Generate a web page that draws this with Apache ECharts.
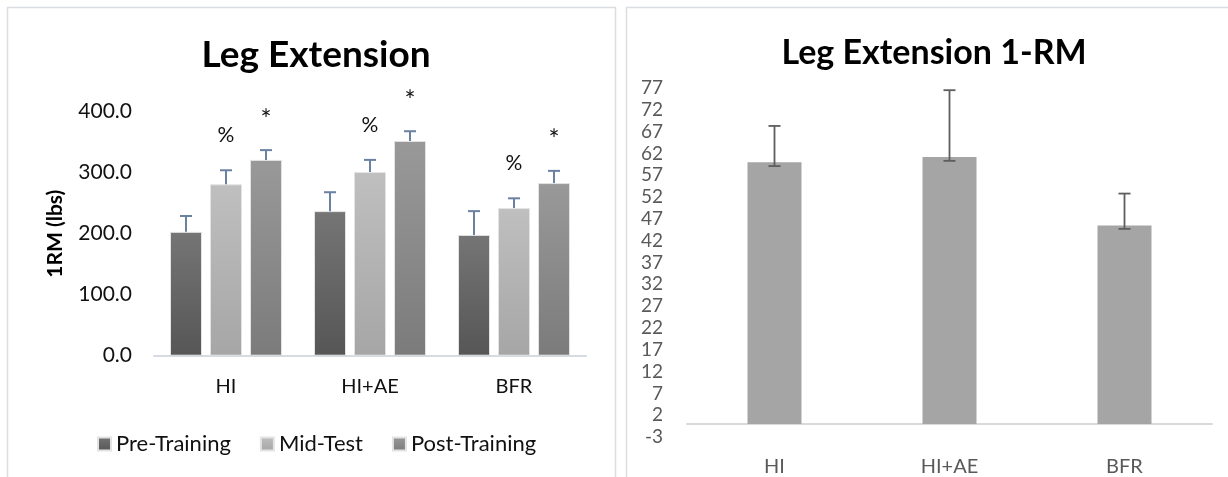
<!DOCTYPE html>
<html>
<head>
<meta charset="utf-8">
<script src="https://cdn.jsdelivr.net/npm/echarts@6/dist/echarts.min.js"></script>
<style>
  html, body { margin: 0; padding: 0; background: #fff; }
  #chart { width: 1228px; height: 477px; }
</style>
</head>
<body>
<div id="chart"></div>
<script>
// ---- Leg extension by group, three test points ----
const categories = ['HI', 'HI+AE', 'BFR'];
const seriesNames = ['Pre-Training', 'Mid-Test', 'Post-Training'];
const preTraining = [203, 237, 198];
const midTest = [281, 301, 242];
const postTraining = [321, 352, 283];
const preTrainingErr = [26, 31, 39];
const midTestErr = [23, 20, 16];
const postTrainingErr = [16, 16, 20];
const preTrainingMarks = ['', '', ''];
const midTestMarks = ['%', '%', '%'];
const postTrainingMarks = ['*', '*', '*'];
const lbsAxisMin = 0;
const lbsAxisMax = 400;
const lbsAxisStep = 100;

// ---- Leg extension 1-RM change by group ----
const rmCategories = ['HI', 'HI+AE', 'BFR'];
const rmMean = [60.0, 61.2, 45.5];
const rmErrLow = [59.1, 60.3, 44.7];
const rmErrHigh = [68.3, 76.5, 52.8];
const rmAxisMin = -3;
const rmAxisMax = 77;
const rmAxisStep = 5;

const FONT = 'Lato, "Open Sans", sans-serif';
const BAR_W = 32;
const BAR_GAP = 8;

const grad = (top, bottom) => new echarts.graphic.LinearGradient(0, 0, 0, 1, [
  { offset: 0, color: top }, { offset: 1, color: bottom }
]);
const barColors = [grad('#757575', '#565656'), grad('#bfbfbf', '#a6a6a6'), grad('#999999', '#7b7b7b')];

const groups = [
  { name: seriesNames[0], values: preTraining, errs: preTrainingErr, marks: preTrainingMarks },
  { name: seriesNames[1], values: midTest, errs: midTestErr, marks: midTestMarks },
  { name: seriesNames[2], values: postTraining, errs: postTrainingErr, marks: postTrainingMarks }
];

// upper-only error whisker with its significance mark above it
function upperErrRenderer(k, marks) {
  return function (params, api) {
    const i = api.value(0);
    const base = api.coord([i, api.value(1)]);
    const top = api.coord([i, api.value(1) + api.value(2)]);
    const x = base[0] + (k - 1) * (BAR_W + BAR_GAP);
    const stroke = { stroke: '#6b81a2', lineWidth: 2 };
    const children = [
      { type: 'line', shape: { x1: x, y1: base[1], x2: x, y2: top[1] }, style: stroke },
      { type: 'line', shape: { x1: x - 6, y1: top[1], x2: x + 6, y2: top[1] }, style: stroke }
    ];
    const mark = marks[params.dataIndex];
    if (mark) {
      const star = mark === '*';
      children.push({
        type: 'text',
        style: {
          text: mark, x: x, y: top[1] - (star ? 30 : 35),
          align: 'center', verticalAlign: 'middle',
          font: (star ? '26px ' : '21px ') + FONT, fill: '#111'
        }
      });
    }
    return { type: 'group', children: children };
  };
}

// two-sided error whisker for the 1-RM bars
function rangeErrRenderer(params, api) {
  const i = api.value(0);
  const lo = api.coord([i, api.value(1)]);
  const hi = api.coord([i, api.value(2)]);
  const x = lo[0];
  const stroke = { stroke: '#5e5e5e', lineWidth: 1.8 };
  return {
    type: 'group',
    children: [
      { type: 'line', shape: { x1: x, y1: lo[1], x2: x, y2: hi[1] }, style: stroke },
      { type: 'line', shape: { x1: x - 6, y1: hi[1], x2: x + 6, y2: hi[1] }, style: stroke },
      { type: 'line', shape: { x1: x - 6, y1: lo[1], x2: x + 6, y2: lo[1] }, style: stroke }
    ]
  };
}

const series = [];
groups.forEach((g, k) => {
  series.push({
    name: g.name, type: 'bar', xAxisIndex: 0, yAxisIndex: 0,
    barWidth: BAR_W, barGap: (BAR_GAP / BAR_W * 100) + '%',
    itemStyle: { color: barColors[k], borderColor: '#e3e3e3', borderWidth: 1 },
    data: g.values
  });
});
groups.forEach((g, k) => {
  series.push({
    type: 'custom', xAxisIndex: 0, yAxisIndex: 0, z: 5,
    renderItem: upperErrRenderer(k, g.marks),
    data: g.values.map((v, i) => [i, v, g.errs[i]])
  });
});
series.push({
  name: '1-RM', type: 'bar', xAxisIndex: 1, yAxisIndex: 1,
  barWidth: 54, itemStyle: { color: '#a5a5a5' }, data: rmMean
});
series.push({
  type: 'custom', xAxisIndex: 1, yAxisIndex: 1, z: 5,
  renderItem: rangeErrRenderer,
  data: rmMean.map((v, i) => [i, rmErrLow[i], rmErrHigh[i]])
});

const panelLine = { stroke: '#dadee3', lineWidth: 1.5 };

const option = {
  backgroundColor: '#ffffff',
  animation: false,
  textStyle: { fontFamily: FONT },
  title: [
    {
      text: 'Leg Extension', left: 311, top: 32, textAlign: 'center',
      textStyle: { fontFamily: FONT, fontSize: 37, fontWeight: 'bold', color: '#000' }
    },
    {
      text: 'Leg Extension 1-RM', left: 929, top: 31, textAlign: 'center',
      textStyle: { fontFamily: FONT, fontSize: 34, fontWeight: 'bold', color: '#000' }
    }
  ],
  legend: {
    data: seriesNames, left: 92, top: 428, icon: 'rect',
    itemWidth: 13, itemHeight: 13, itemGap: 29,
    textStyle: { fontFamily: FONT, fontSize: 22, color: '#111' }
  },
  grid: [
    { left: 154, right: 1228 - 586, top: 111.7, bottom: 477 - 355.7 },
    { left: 687, right: 16, top: 88, bottom: 477 - 445 }
  ],
  xAxis: [
    {
      type: 'category', gridIndex: 0, data: categories,
      axisLine: { lineStyle: { color: '#d6dbe1', width: 2 } },
      axisTick: { show: false },
      axisLabel: { margin: 21, fontFamily: FONT, fontSize: 20, color: '#111' }
    },
    {
      type: 'category', gridIndex: 1, data: rmCategories,
      axisLine: { onZero: true, lineStyle: { color: '#d9d9d9', width: 2 } },
      axisTick: { show: false },
      axisLabel: { margin: 20, fontFamily: FONT, fontSize: 20, color: '#595959' }
    }
  ],
  yAxis: [
    {
      type: 'value', gridIndex: 0, min: lbsAxisMin, max: lbsAxisMax, interval: lbsAxisStep,
      name: '1RM (lbs)', nameLocation: 'middle', nameGap: 88, nameRotate: 90,
      nameTextStyle: { fontFamily: FONT, fontSize: 21, fontWeight: 'bold', color: '#000' },
      axisLine: { show: false }, axisTick: { show: false }, splitLine: { show: false },
      axisLabel: {
        margin: 22, fontFamily: FONT, fontSize: 21, color: '#111',
        formatter: v => v.toFixed(1)
      }
    },
    {
      type: 'value', gridIndex: 1, min: rmAxisMin, max: rmAxisMax, interval: rmAxisStep,
      axisLine: { show: false }, axisTick: { show: false }, splitLine: { show: false },
      axisLabel: { margin: 24, fontFamily: FONT, fontSize: 19, color: '#595959' }
    }
  ],
  graphic: [
    { type: 'polyline', shape: { points: [[7.5, 477], [7.5, 7.5], [615.5, 7.5], [615.5, 477]] }, style: Object.assign({ fill: null }, panelLine), silent: true },
    { type: 'polyline', shape: { points: [[626.5, 477], [626.5, 7.5], [1228, 7.5]] }, style: Object.assign({ fill: null }, panelLine), silent: true }
  ],
  series: series
};

const chart = echarts.init(document.getElementById('chart'), null, { renderer: 'canvas' });
chart.setOption(option);
</script>
</body>
</html>
